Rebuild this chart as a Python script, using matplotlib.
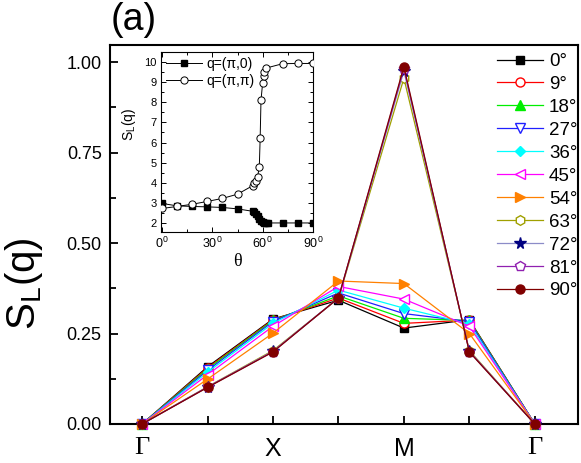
import numpy as np
import matplotlib
matplotlib.use("Agg")
import matplotlib.pyplot as plt
from matplotlib.ticker import MultipleLocator

plt.rcParams['font.family'] = ['Liberation Sans', 'DejaVu Sans']
plt.rcParams['mathtext.fontset'] = 'custom'
plt.rcParams['mathtext.rm'] = 'Liberation Sans'
plt.rcParams['mathtext.it'] = 'Liberation Sans:italic'

# path points: Gamma, (G-X), X, (X-M), M, (M-G), Gamma
path_labels = ["Γ", "", "X", "", "M", "", "Γ"]
angles = ["0°", "9°", "18°", "27°", "36°", "45°", "54°", "63°", "72°", "81°", "90°"]

s_0 = [0, 0.158, 0.290, 0.342, 0.265, 0.288, 0]
s_9 = [0, 0.155, 0.288, 0.348, 0.278, 0.287, 0]
s_18 = [0, 0.152, 0.286, 0.354, 0.292, 0.286, 0]
s_27 = [0, 0.148, 0.283, 0.362, 0.305, 0.283, 0]
s_36 = [0, 0.143, 0.278, 0.370, 0.320, 0.276, 0]
s_45 = [0, 0.136, 0.270, 0.380, 0.345, 0.270, 0]
s_54 = [0, 0.124, 0.251, 0.395, 0.388, 0.250, 0]
s_63 = [0, 0.103, 0.203, 0.347, 0.955, 0.203, 0]
s_72 = [0, 0.102, 0.201, 0.348, 0.975, 0.201, 0]
s_81 = [0, 0.102, 0.200, 0.348, 0.982, 0.200, 0]
s_90 = [0, 0.101, 0.199, 0.348, 0.987, 0.199, 0]
series = [s_0, s_9, s_18, s_27, s_36, s_45, s_54, s_63, s_72, s_81, s_90]

# inset: S_L(q) vs theta
theta_pi0 = [0, 9, 18, 27, 36, 45, 54, 55, 56, 57, 58, 59, 60, 61, 62, 63, 72, 81, 90]
sq_pi0 = [2.97, 2.85, 2.82, 2.80, 2.77, 2.70, 2.58, 2.52, 2.45, 2.35, 2.22, 2.12, 2.05, 2.02, 2.0, 2.0, 2.0, 2.0, 2.0]
theta_pipi = [0, 9, 18, 27, 36, 45, 54, 55, 56, 57, 58, 58.5, 59, 60, 60.5, 61, 62, 72, 81, 90]
sq_pipi = [2.72, 2.82, 2.93, 3.07, 3.22, 3.43, 3.85, 3.97, 4.1, 4.3, 4.8, 6.2, 8.1, 8.98, 9.3, 9.5, 9.7, 9.92, 9.93, 9.93]

colors = ["black", "red", "#00ee00", "#2020ff", "cyan", "#ff00ff", "#ff8000",
          "#a0a000", "#000080", "#9020b0", "#800000"]
line_colors = colors[:]
line_colors[8] = "#8c8cc8"
markers = ["s", "o", "^", "v", "D", "<", ">", "h", "*", "p", "o"]
hollow = [False, True, False, True, False, True, False, True, False, True, False]
msizes = [6, 6.5, 7, 7, 5.5, 7, 7, 7, 8.5, 7, 6.5]

fig = plt.figure(figsize=(5.81, 4.63), dpi=100)
ax = fig.add_axes([110 / 581, 39 / 463, 468 / 581, 379 / 463])

x = np.arange(len(path_labels))
for i, s in enumerate(series):
    ax.plot(x, s, color=line_colors[i], lw=0.9, marker=markers[i], ms=msizes[i],
            mfc="white" if hollow[i] else colors[i], mec=colors[i], mew=1.0,
            label=angles[i], clip_on=False, zorder=3 + i)

ax.set_xlim(-0.49, 6.66)
ax.set_ylim(0, 1.047)
ax.set_xticks(x)
ax.set_xticklabels(path_labels, fontsize=18)
for lab in ax.get_xticklabels():
    if lab.get_text() == "Γ":
        lab.set_fontfamily("Liberation Serif")
        lab.set_fontsize(19)
ax.set_yticks([0, 0.25, 0.5, 0.75, 1.0])
ax.set_yticklabels(["0.00", "0.25", "0.50", "0.75", "1.00"], fontsize=13)
ax.yaxis.set_minor_locator(MultipleLocator(0.125))
ax.tick_params(which="both", direction="in", width=1.3)
ax.tick_params(which="major", length=6)
ax.tick_params(which="minor", length=4)
ax.tick_params(axis="x", pad=9)
ax.tick_params(axis="y", pad=6)
for sp in ax.spines.values():
    sp.set_linewidth(1.5)

ax.set_ylabel("S$_\\mathrm{L}$(q)", fontsize=29)
ax.yaxis.set_label_coords(-0.138, 0.37)

ax.legend(loc="upper left", bbox_to_anchor=(0.826, 0.979), frameon=False,
          fontsize=13.5, handlelength=2.5, handletextpad=0.3, borderpad=0,
          borderaxespad=0, labelspacing=0.31)

fig.text(111 / 581, 1 - 20 / 463, "(a)", fontsize=27, va="center", ha="left")

# inset
ins = fig.add_axes([161 / 581, (463 - 232) / 463, 152 / 581, 180 / 463])
ins.plot(theta_pi0, sq_pi0, color="black", lw=0.7, marker="s", ms=4.2,
         mfc="black", mec="black", label="q=(π,0)", zorder=3)
ins.plot(theta_pipi, sq_pipi, color="black", lw=0.7, marker="o", ms=5.2,
         mfc="white", mec="black", mew=0.7, label="q=(π,π)", zorder=4)
ins.set_xlim(-0.6, 90)
ins.set_ylim(1.55, 10.5)
ins.set_xticks([0, 30, 60, 90])
ins.set_xticklabels(["0$^0$", "30$^0$", "60$^0$", "90$^0$"], fontsize=9)
ins.set_yticks(range(2, 11))
ins.tick_params(axis="y", labelsize=8)
ins.xaxis.set_minor_locator(MultipleLocator(15))
ins.yaxis.set_minor_locator(MultipleLocator(0.5))
ins.tick_params(which="both", direction="in", top=True, right=True, width=0.7, pad=3)
ins.tick_params(which="major", length=3.5)
ins.tick_params(which="minor", length=2)
for sp in ins.spines.values():
    sp.set_linewidth(0.8)
ins.set_xlabel("θ", fontsize=13, family="Liberation Serif", labelpad=1)
ins.set_ylabel("S$_\\mathrm{L}$(q)", fontsize=10, labelpad=3)
ins.yaxis.set_label_coords(-0.15, 0.6)
ins.legend(loc="upper left", frameon=False, fontsize=10, handlelength=2.6,
           handletextpad=0.3, borderpad=0.25, borderaxespad=0.1, labelspacing=0.25)

fig.savefig("out.png", dpi=100)
